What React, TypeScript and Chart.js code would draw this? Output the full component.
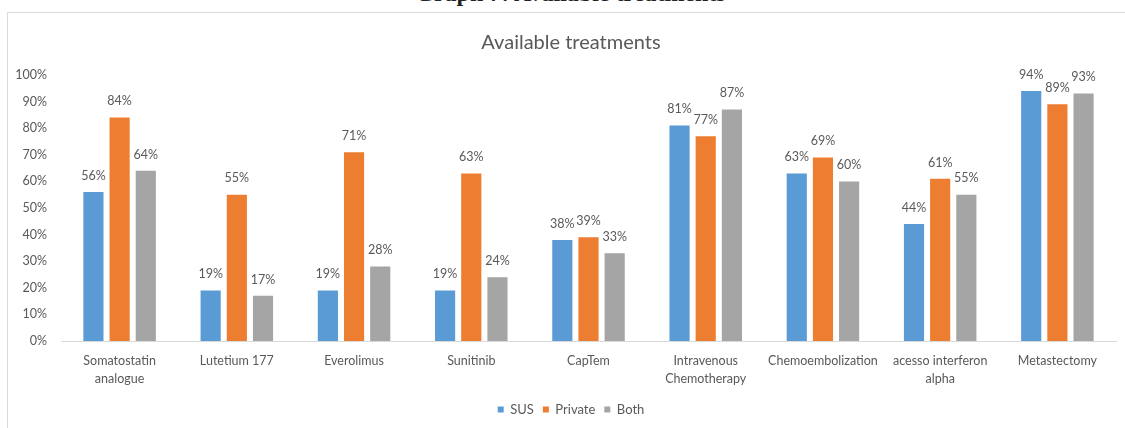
import React, { useEffect, useRef } from "react";
import { Chart, registerables } from "chart.js";

Chart.register(...registerables);

// Treatments and the share of respondents reporting access, per health system
const categories: (string | string[])[] = [
  ["Somatostatin", "analogue"],
  "Lutetium 177",
  "Everolimus",
  "Sunitinib",
  "CapTem",
  ["Intravenous", "Chemotherapy"],
  "Chemoembolization",
  ["acesso interferon", "alpha"],
  "Metastectomy",
];
const seriesNames = ["SUS", "Private", "Both"];
const susValues = [56, 19, 19, 19, 38, 81, 63, 44, 94];
const privateValues = [84, 55, 71, 63, 39, 77, 69, 61, 89];
const bothValues = [64, 17, 28, 24, 33, 87, 60, 55, 93];
const yTickValues = [0, 10, 20, 30, 40, 50, 60, 70, 80, 90, 100];

const seriesColors = ["#5B9BD5", "#ED7D31", "#A5A5A5"];
const textColor = "#595959";
const fontFamily = "Lato, 'Open Sans', sans-serif";

// Writes each bar's percentage just above its top
const valueLabels = {
  id: "valueLabels",
  afterDatasetsDraw(chart: any) {
    const ctx = chart.ctx;
    ctx.save();
    ctx.font = `12.5px ${fontFamily}`;
    ctx.fillStyle = textColor;
    ctx.textAlign = "center";
    ctx.textBaseline = "bottom";
    chart.data.datasets.forEach((ds: any, i: number) => {
      const meta = chart.getDatasetMeta(i);
      meta.data.forEach((bar: any, j: number) => {
        ctx.fillText(`${ds.data[j]}%`, bar.x, bar.y - 10);
      });
    });
    ctx.restore();
  },
};

export default function App() {
  const canvasRef = useRef<HTMLCanvasElement | null>(null);

  useEffect(() => {
    if (!canvasRef.current) return;
    const chart = new Chart(canvasRef.current, {
      type: "bar",
      data: {
        labels: categories,
        datasets: [susValues, privateValues, bothValues].map((values, i) => ({
          label: seriesNames[i],
          data: values,
          backgroundColor: seriesColors[i],
          borderWidth: 0,
          categoryPercentage: 0.67,
          barPercentage: 0.77,
          yAxisID: "y",
        })),
      },
      options: {
        responsive: false,
        animation: false,
        layout: { padding: { left: 0, right: 0, top: 0, bottom: 1 } },
        plugins: {
          title: {
            display: true,
            text: "Available treatments",
            color: textColor,
            font: { family: fontFamily, size: 20, weight: "normal" },
            padding: { top: 18, bottom: 20 },
          },
          legend: {
            position: "bottom",
            labels: {
              color: textColor,
              font: { family: fontFamily, size: 13 },
              boxWidth: 6,
              boxHeight: 6,
              padding: 9,
            },
          },
          tooltip: { enabled: false },
        },
        scales: {
          x: {
            grid: { display: false },
            border: { display: true, color: "#D9D9D9", width: 1 },
            ticks: {
              color: textColor,
              font: { family: fontFamily, size: 12.5, lineHeight: 1.45 },
              maxRotation: 0,
              autoSkip: false,
              padding: 3,
            },
            afterFit: (scale: any) => {
              scale.height = 53;
            },
          },
          y: {
            position: "left",
            min: 0,
            max: 100,
            grid: { display: false },
            border: { display: false },
            afterBuildTicks: (scale: any) => {
              scale.ticks = yTickValues.map((v) => ({ value: v }));
            },
            ticks: {
              color: textColor,
              font: { family: fontFamily, size: 12.5 },
              padding: 6,
              callback: (v: any) => `${v}%`,
            },
            afterFit: (scale: any) => {
              scale.width = 53;
            },
          },
          // blank right-hand margin of the plot
          yRight: {
            position: "right",
            min: 0,
            max: 100,
            grid: { display: false },
            border: { display: false },
            ticks: { display: false },
            afterFit: (scale: any) => {
              scale.width = 18;
            },
          },
        },
      },
      plugins: [valueLabels],
    });
    return () => chart.destroy();
  }, []);

  return (
    <div
      style={{
        position: "absolute",
        left: 0,
        top: 0,
        width: 1125,
        height: 428,
        overflow: "hidden",
        background: "#ffffff",
      }}
    >
      <div
        style={{
          position: "absolute",
          top: -20,
          left: 0,
          width: 1141,
          textAlign: "center",
          fontFamily: "'Liberation Serif', 'Times New Roman', serif",
          fontWeight: "bold",
          fontSize: 24,
          color: "#222",
          whiteSpace: "nowrap",
        }}
      >
        Graph 7: Available treatments
      </div>
      <div
        style={{
          position: "absolute",
          left: 7,
          top: 12,
          width: 1130,
          height: 430,
          border: "1px solid #D9D9D9",
        }}
      />
      <canvas
        ref={canvasRef}
        width={1126}
        height={414}
        style={{ position: "absolute", left: 8, top: 13 }}
      />
    </div>
  );
}
